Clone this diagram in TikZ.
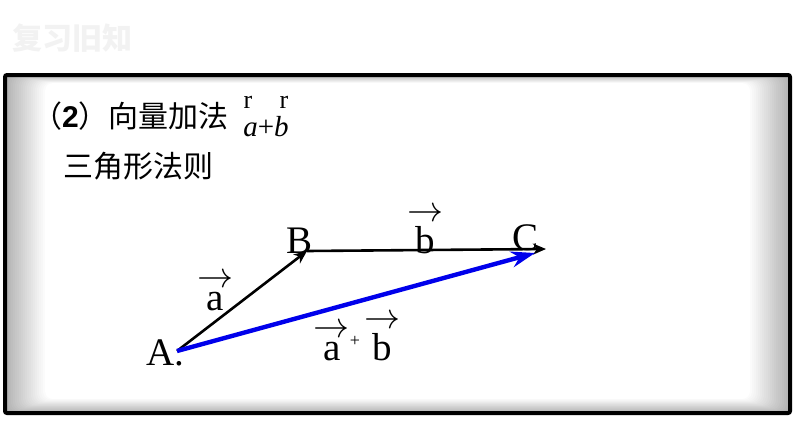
\documentclass[tikz,border=0pt]{standalone}
\usepackage{fontspec}
\setmainfont{Liberation Serif}
\newfontfamily\cjk{Noto Sans CJK SC}
\newfontfamily\numfont{Liberation Sans}
\usetikzlibrary{arrows.meta}

% vector letter with an arrow over it
\newcommand\ontop[1]{\shortstack{\resizebox{36pt}{!}{$\rightarrow$}\\[1pt]#1}}

\begin{document}
\begin{tikzpicture}
  [x=1pt,y=-1pt,
   every node/.style={inner sep=0pt},
   hz/.style={font=\cjk\fontsize{30}{30}\selectfont,anchor=west},
   ptlab/.style={font=\fontsize{39}{39}\selectfont,anchor=base},
   veclab/.style={font=\fontsize{39}{39}\selectfont,anchor=base},
   vecline/.style={line width=2.6pt,-{Stealth[length=13pt,width=11pt,inset=4pt]}},
   sumline/.style={line width=4.4pt,draw=blue!92!black,-{Stealth[length=24pt,width=16pt,inset=8pt]}}]
  \useasboundingbox (0,0) rectangle (794,447);
  \fill[white] (0,0) rectangle (794,447);

  \node[font=\cjk\bfseries\fontsize{30}{30}\selectfont,text=black!5,anchor=west] (title) at (12,38) {复习旧知};

  % frame with grey edge
  \foreach \i in {0,...,20}
    {\pgfmathsetmacro\g{30-1.5*\i}
     \fill[black!\g,rounded corners=8] (5+2*\i,75+0.4*\i) rectangle (790-2*\i,413-0.7*\i);}
  \draw[line width=4pt,rounded corners=2] (5,75) rectangle (790,413);

  \node[hz] (head) at (32,116) {（{\numfont\bfseries 2}）向量加法};
  \node[font=\fontsize{26}{26}\selectfont] (r1) at (248,102) {r};
  \node[font=\fontsize{26}{26}\selectfont] (r2) at (284,102) {r};
  \node[font=\fontsize{29}{29}\selectfont] (ab) at (266,127) {\textit{a}+\textit{b}};
  \node[hz] (rule) at (63,166) {三角形法则};

  \coordinate (pA) at (177,351);
  \coordinate (pB) at (307,251);
  \coordinate (pC) at (546,249);
  \coordinate (pS) at (535,253);

  \node[ptlab] (lA) at (165,365) {A.};
  \node[ptlab] (lB) at (300,253) {B};
  \node[ptlab] (lC) at (525,250) {C};

  \draw[vecline] (pA) -- (pB);
  \draw[vecline] (pB) -- (pC);
  \draw[sumline] (pA) -- (pS);

  \node[veclab] (va) at (215,310) {\ontop{a}};
  \node[veclab] (vb) at (425,253) {\ontop{b}};
  \node[veclab] (vs) at (357,360) {\ontop{a}\raisebox{14pt}{\fontsize{18}{18}\selectfont +}\hspace{4pt}\ontop{b}};
\end{tikzpicture}
\end{document}
